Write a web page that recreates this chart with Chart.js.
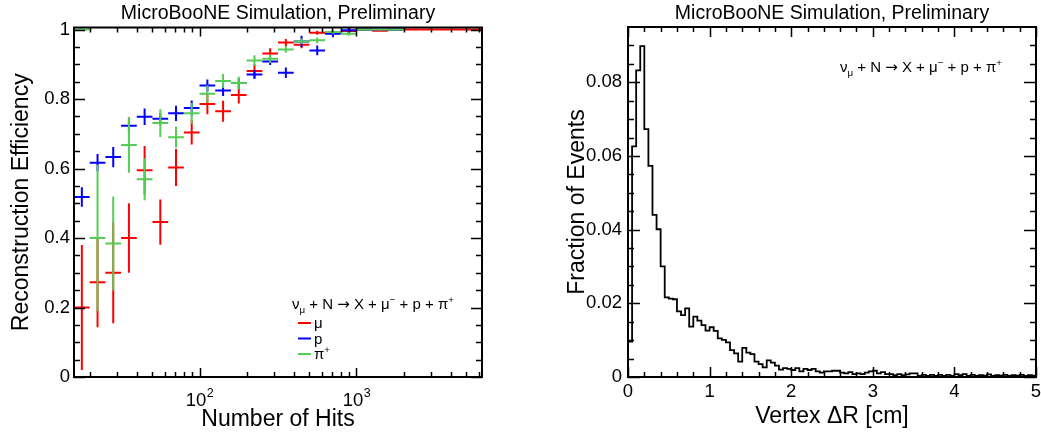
<!DOCTYPE html>
<html lang="en">
<head>
<meta charset="UTF-8">
<title>MicroBooNE Simulation, Preliminary</title>
<style>
  html, body { margin: 0; padding: 0; background: #fff; }
  body { width: 1041px; height: 434px; position: relative; overflow: hidden; }
  canvas { position: absolute; top: 0; }
  #effChart { left: 0; }
  #drChart { left: 520px; }
</style>
</head>
<body>
<canvas id="effChart" width="520" height="434"></canvas>
<canvas id="drChart" width="521" height="434"></canvas>

<script src="https://cdn.jsdelivr.net/npm/chart.js"></script>
<script>
  // ---------- left panel: efficiency vs number of hits ----------
  // bins are 0.1 wide in log10(hits), starting at log10 = 1.2
  const hitLogMin = 1.2;
  const hitLogStep = 0.1;

  const muEff = [0.200, 0.273, 0.300, 0.400, 0.595, 0.446, 0.603, 0.704, 0.786, 0.765, 0.812, 0.881, 0.931,
                 0.963, 0.956, 0.991, 0.991, 0.996, 1.000, 0.997, 1.000, 1.000, 1.000, 1.000, 1.000, 1.000];
  const muErr = [0.180, 0.130, 0.145, 0.100, 0.070, 0.065, 0.053, 0.035, 0.030, 0.030, 0.025, 0.020, 0.015,
                 0.010, 0.010, 0.006, 0.005, 0.004, 0.003, 0.003, 0.002, 0.002, 0.002, 0.002, 0.002, 0.002];

  const pEff = [0.518, 0.617, 0.633, 0.723, 0.749, 0.743, 0.759, 0.774, 0.839, 0.825, 0.846, 0.871, 0.908,
                0.876, 0.966, 0.940, 0.988, 0.998, 1.000, 1.000, 1.000, null, null, null, null, null];
  const pErr = [0.028, 0.025, 0.029, 0.024, 0.024, 0.017, 0.022, 0.022, 0.017, 0.016, 0.013, 0.013, 0.010,
                0.015, 0.016, 0.014, 0.010, 0.008, 0.003, 0.003, 0.003, 0, 0, 0, 0, 0];

  const piEff = [1.000, 0.400, 0.384, 0.668, 0.569, 0.731, 0.690, 0.759, 0.815, 0.852, 0.846, 0.911, 0.916,
                 0.943, 0.966, 0.969, 0.993, 0.988, 1.000, 1.000, 1.000, null, null, null, null, null];
  const piErr = [0.000, 0.210, 0.135, 0.080, 0.060, 0.040, 0.030, 0.030, 0.025, 0.020, 0.018, 0.015, 0.012,
                 0.010, 0.008, 0.008, 0.006, 0.006, 0.003, 0.003, 0.003, 0, 0, 0, 0, 0];

  const effTicks = [0, 0.2, 0.4, 0.6, 0.8, 1];
  const effTickLabels = ['0', '0.2', '0.4', '0.6', '0.8', '1'];
  const hitTicks = [100, 1000];
  const hitTickExp = ['2', '3'];
  const hitMinorTicks = [20, 30, 40, 50, 60, 70, 80, 90, 200, 300, 400, 500, 600, 700, 800, 900,
                         2000, 3000, 4000, 5000, 6000];

  // ---------- right panel: vertex delta R ----------
  const drBinWidth = 0.05;
  const drFrac = [
    0.0096, 0.0626, 0.0832, 0.0898, 0.0673, 0.0573, 0.0440, 0.0401, 0.0300, 0.0216,
    0.0213, 0.0211, 0.0178, 0.0168, 0.0186, 0.0137, 0.0164, 0.0153, 0.0141, 0.0126,
    0.0135, 0.0125, 0.0105, 0.0101, 0.0094, 0.0073, 0.0064, 0.0042, 0.0079, 0.0066,
    0.0062, 0.0042, 0.0035, 0.0026, 0.0045, 0.0039, 0.0031, 0.0020, 0.0024, 0.0022,
    0.0019, 0.0024, 0.0015, 0.0022, 0.0019, 0.0022, 0.0015, 0.0012, 0.0015, 0.0015,
    0.0017, 0.0017, 0.0012, 0.0010, 0.0013, 0.0008, 0.0010, 0.0008, 0.0012, 0.0015,
    0.0017, 0.0010, 0.0013, 0.0008, 0.0008, 0.0005, 0.0008, 0.0005, 0.0007, 0.0010,
    0.0010, 0.0003, 0.0006, 0.0003, 0.0006, 0.0003, 0.0006, 0.0003, 0.0006, 0.0003,
    0.0008, 0.0005, 0.0008, 0.0003, 0.0006, 0.0003, 0.0005, 0.0004, 0.0007, 0.0003,
    0.0005, 0.0004, 0.0006, 0.0003, 0.0005, 0.0004, 0.0006, 0.0003, 0.0005, 0.0004
  ];
  const drTicks = [0, 1, 2, 3, 4, 5];
  const drTickLabels = ['0', '1', '2', '3', '4', '5'];
  const fracTicks = [0, 0.02, 0.04, 0.06, 0.08];
  const fracTickLabels = ['0', '0.02', '0.04', '0.06', '0.08'];

  const FONT = "'Liberation Sans', Arial, Helvetica, sans-serif";
  const ARROW_FONT = "'DejaVu Sans', sans-serif";
  Chart.defaults.font.family = FONT;
  Chart.defaults.color = '#000';

  function steps(from, to, step) {
    const out = [];
    for (let v = from; v < to - 1e-9; v += step) out.push(+v.toFixed(4));
    return out;
  }

  // draw "ν_μ + N → X + μ⁻ + p + π⁺" style text, parts = [text, 0|1|-1|'a']
  function drawRich(ctx, parts, x, y, size) {
    let cx = x;
    ctx.textBaseline = 'alphabetic';
    ctx.textAlign = 'left';
    parts.forEach(([t, m]) => {
      const fs = (m === 1 || m === -1) ? size * 0.65 : size;
      ctx.font = fs + 'px ' + (m === 'a' ? ARROW_FONT : FONT);
      const dy = m === 1 ? -size * 0.38 : (m === -1 ? size * 0.25 : 0);
      ctx.fillText(t, cx, y + dy);
      cx += ctx.measureText(t).width;
    });
  }
  const reactionText = [['\u03BD', 0], ['\u03BC', -1], [' + N ', 0], ['\u2192', 'a'], [' X + \u03BC', 0],
                        ['\u2212', 1], [' + p + \u03C0', 0], ['+', 1]];

  // ROOT style frame with inward ticks on all sides
  const rootAxes = {
    id: 'rootAxes',
    afterDatasetsDraw(chart, args, o) {
      const { ctx, chartArea: a, scales: { x, y } } = chart;
      ctx.save();
      ctx.strokeStyle = '#000';
      ctx.lineWidth = 1.5;
      ctx.beginPath();
      const xt = (vals, len) => vals.forEach(v => {
        const px = Math.round(x.getPixelForValue(v)) + 0.5;
        ctx.moveTo(px, a.bottom); ctx.lineTo(px, a.bottom - len);
        ctx.moveTo(px, a.top); ctx.lineTo(px, a.top + len);
      });
      const yt = (vals, len) => vals.forEach(v => {
        const py = Math.round(y.getPixelForValue(v)) + 0.5;
        ctx.moveTo(a.left, py); ctx.lineTo(a.left + len, py);
        ctx.moveTo(a.right, py); ctx.lineTo(a.right - len, py);
      });
      xt(o.xMajor, o.xMajLen); xt(o.xMinor, o.xMinLen);
      yt(o.yMajor, o.yMajLen); yt(o.yMinor, o.yMinLen);
      ctx.stroke();
      ctx.lineWidth = 2;
      ctx.strokeRect(a.left, a.top, a.right - a.left, a.bottom - a.top);

      // power-of-ten labels for the log axis
      if (o.powLabels) {
        ctx.fillStyle = '#000';
        ctx.textBaseline = 'alphabetic';
        ctx.textAlign = 'left';
        o.powLabels.values.forEach((v, i) => {
          ctx.font = '18.5px ' + FONT;
          const w1 = ctx.measureText('10').width;
          ctx.font = '12.5px ' + FONT;
          const w2 = ctx.measureText(o.powLabels.exp[i]).width;
          const x0 = x.getPixelForValue(v) - (w1 + w2) / 2;
          ctx.font = '18.5px ' + FONT;
          ctx.fillText('10', x0, 406);
          ctx.font = '12.5px ' + FONT;
          ctx.fillText(o.powLabels.exp[i], x0 + w1 + 0.5, 397);
        });
      }
      ctx.restore();
    },
    afterDraw(chart, args, o) {
      const ctx = chart.ctx;
      ctx.save();
      ctx.fillStyle = '#000';
      drawRich(ctx, reactionText, o.textX, o.textY, 15);
      if (o.legend) {
        o.legend.forEach((e, i) => {
          const yy = o.legendY + i * 15.5;
          ctx.strokeStyle = e.color;
          ctx.lineWidth = 2;
          ctx.beginPath();
          ctx.moveTo(o.legendX, yy); ctx.lineTo(o.legendX + 13, yy);
          ctx.stroke();
          ctx.fillStyle = '#000';
          drawRich(ctx, e.text, o.legendX + 16, yy + 5, 15);
        });
      }
      ctx.restore();
    }
  };

  // error crosses: horizontal = bin width, vertical = +- error
  const errCross = {
    id: 'errCross',
    afterDatasetsDraw(chart) {
      const { ctx, chartArea: a, scales: { x, y } } = chart;
      ctx.save();
      ctx.beginPath();
      ctx.rect(a.left, a.top, a.right - a.left, a.bottom - a.top);
      ctx.clip();
      ctx.lineWidth = 2;
      chart.data.datasets.forEach(ds => {
        ctx.strokeStyle = ds.borderColor;
        ds.data.forEach((p, i) => {
          if (p.y === null) return;
          const lc = Math.log10(p.x);
          const x0 = x.getPixelForValue(Math.pow(10, lc - hitLogStep / 2));
          const x1 = x.getPixelForValue(Math.pow(10, lc + hitLogStep / 2));
          const xc = x.getPixelForValue(p.x);
          const yc = y.getPixelForValue(p.y);
          const yl = y.getPixelForValue(p.y - ds.errY[i]);
          const yh = y.getPixelForValue(p.y + ds.errY[i]);
          ctx.beginPath();
          ctx.moveTo(x0, yc); ctx.lineTo(x1, yc);
          if (ds.errY[i] > 0) { ctx.moveTo(xc, yh); ctx.lineTo(xc, yl); }
          ctx.stroke();
        });
      });
      ctx.restore();
    }
  };

  function effPoints(vals) {
    return vals.map((v, i) => ({ x: Math.pow(10, hitLogMin + hitLogStep * (i + 0.5)), y: v }));
  }

  const titleFont = { size: 19.5, weight: 'normal', lineHeight: 1 };

  new Chart(document.getElementById('effChart'), {
    type: 'scatter',
    data: {
      datasets: [
        { label: '\u03BC', data: effPoints(muEff), errY: muErr, borderColor: '#ff0000', pointRadius: 0 },
        { label: 'p', data: effPoints(pEff), errY: pErr, borderColor: '#0000ff', pointRadius: 0 },
        { label: '\u03C0+', data: effPoints(piEff), errY: piErr, borderColor: '#55cc55', pointRadius: 0 }
      ]
    },
    options: {
      responsive: false,
      animation: false,
      layout: { padding: { left: 0, right: 38, top: 0, bottom: 0 } },
      plugins: {
        legend: { display: false },
        tooltip: { enabled: false },
        title: {
          display: true, fullSize: false,
          text: 'MicroBooNE Simulation, Preliminary',
          font: titleFont, color: '#000',
          padding: { top: 4, bottom: 4 }
        },
        rootAxes: {
          xMajor: hitTicks, xMinor: hitMinorTicks, xMajLen: 9, xMinLen: 5,
          yMajor: effTicks, yMinor: steps(0.05, 1.0, 0.05).filter(v => !effTicks.includes(v)),
          yMajLen: 11, yMinLen: 6,
          powLabels: { values: hitTicks, exp: hitTickExp },
          textX: 292, textY: 309,
          legendX: 298, legendY: 323,
          legend: [
            { color: '#ff0000', text: [['\u03BC', 0]] },
            { color: '#0000ff', text: [['p', 0]] },
            { color: '#55cc55', text: [['\u03C0', 0], ['+', 1]] }
          ]
        }
      },
      scales: {
        x: {
          type: 'logarithmic',
          min: Math.pow(10, 1.2), max: Math.pow(10, 3.8),
          grid: { display: false, drawTicks: false },
          border: { display: false },
          ticks: { display: false },
          afterBuildTicks: s => { s.ticks = hitTicks.map(v => ({ value: v })); },
          afterFit: s => { s.height = 57; s.paddingLeft = 0; s.paddingRight = 0; },
          title: {
            display: true, text: 'Number of Hits',
            font: { size: 23, lineHeight: 1 }, padding: { top: 0, bottom: 3 }
          }
        },
        y: {
          type: 'linear', min: 0, max: 1.006,
          grid: { display: false, drawTicks: false },
          border: { display: false },
          afterBuildTicks: s => { s.ticks = effTicks.map(v => ({ value: v })); },
          afterFit: s => { s.width = 74; s.paddingTop = 0; s.paddingBottom = 0; },
          ticks: {
            autoSkip: false, padding: 4,
            font: { size: 18.5, lineHeight: 1 },
            callback: (v, i) => effTickLabels[i]
          },
          title: {
            display: true, text: 'Reconstruction Efficiency',
            font: { size: 23, lineHeight: 1 }, padding: { top: 10.5 }
          }
        }
      }
    },
    plugins: [errCross, rootAxes]
  });

  // histogram as stepped line through bin low edges
  const drPoints = [{ x: 0, y: 0 }];
  drFrac.forEach((v, i) => drPoints.push({ x: i * drBinWidth, y: v }));
  drPoints.push({ x: drFrac.length * drBinWidth, y: drFrac[drFrac.length - 1] });

  new Chart(document.getElementById('drChart'), {
    type: 'line',
    data: {
      datasets: [{
        label: 'Vertex \u0394R',
        data: drPoints,
        stepped: true,
        borderColor: '#000',
        borderWidth: 1.8,
        pointRadius: 0,
        fill: false
      }]
    },
    options: {
      responsive: false,
      animation: false,
      layout: { padding: { left: 0, right: 5, top: 0, bottom: 0 } },
      plugins: {
        legend: { display: false },
        tooltip: { enabled: false },
        title: {
          display: true, fullSize: false,
          text: 'MicroBooNE Simulation, Preliminary',
          font: titleFont, color: '#000',
          padding: { top: 4, bottom: 3.5 }
        },
        rootAxes: {
          xMajor: drTicks, xMinor: steps(0.2, 5, 0.2).filter(v => !drTicks.includes(v)),
          xMajLen: 10, xMinLen: 5,
          yMajor: fracTicks, yMinor: steps(0.005, 0.095, 0.005).filter(v => !fracTicks.includes(v)),
          yMajLen: 12, yMinLen: 6,
          textX: 840 - 520, textY: 72
        }
      },
      scales: {
        x: {
          type: 'linear', min: 0, max: 5,
          grid: { display: false, drawTicks: false },
          border: { display: false },
          afterBuildTicks: s => { s.ticks = drTicks.map(v => ({ value: v })); },
          afterFit: s => { s.height = 57; s.paddingLeft = 0; s.paddingRight = 0; },
          ticks: {
            autoSkip: false, maxRotation: 0, padding: 5.5,
            font: { size: 18.5, lineHeight: 1 },
            callback: (v, i) => drTickLabels[i]
          },
          title: {
            display: true, text: 'Vertex \u0394R [cm]',
            font: { size: 23, lineHeight: 1 }, padding: { top: 0, bottom: 6 }
          }
        },
        y: {
          type: 'linear', min: 0, max: 0.095,
          grid: { display: false, drawTicks: false },
          border: { display: false },
          afterBuildTicks: s => { s.ticks = fracTicks.map(v => ({ value: v })); },
          afterFit: s => { s.width = 108; s.paddingTop = 0; s.paddingBottom = 0; },
          ticks: {
            autoSkip: false, padding: 6,
            font: { size: 18.5, lineHeight: 1 },
            callback: (v, i) => fracTickLabels[i]
          },
          title: {
            display: true, text: 'Fraction of Events',
            font: { size: 23, lineHeight: 1 }, padding: { top: 46.5 }
          }
        }
      }
    },
    plugins: [rootAxes]
  });
</script>
</body>
</html>
